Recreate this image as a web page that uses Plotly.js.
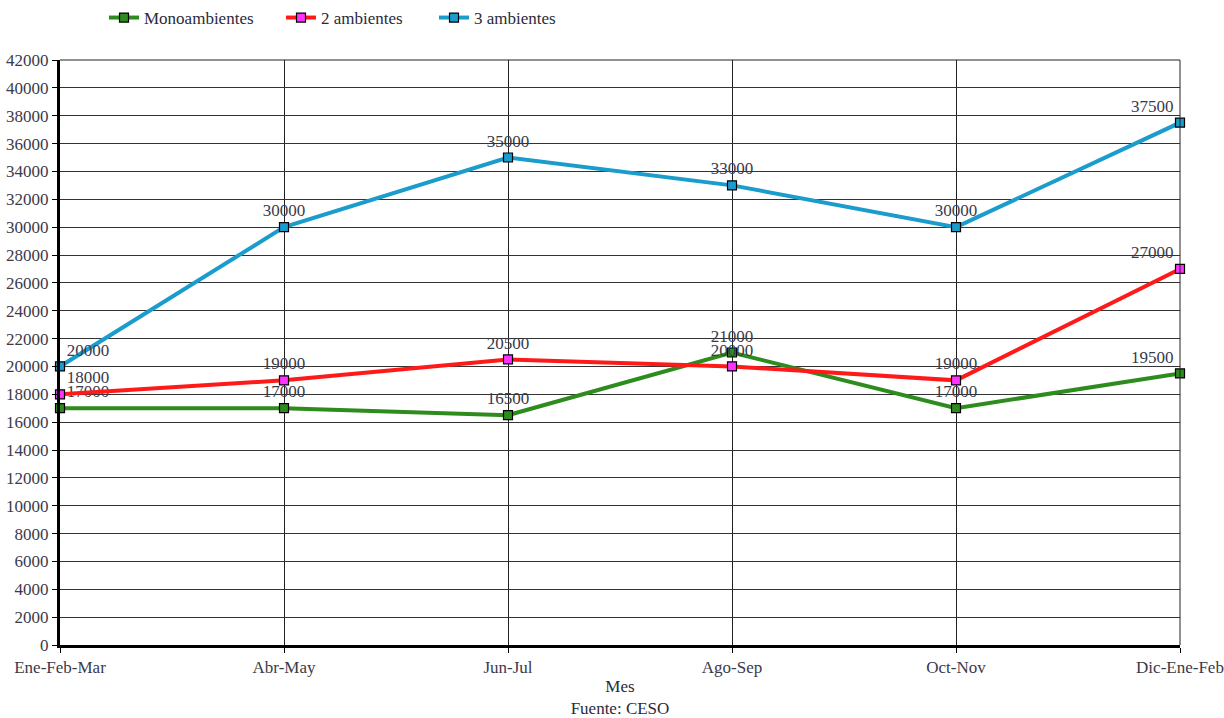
<!DOCTYPE html>
<html>
<head>
<meta charset="utf-8">
<script src="https://cdn.plot.ly/plotly-3.0.1.min.js"></script>
<style>html,body{margin:0;padding:0;background:#fff;}#chart{width:1224px;height:718px;}</style>
</head>
<body>
<div id="chart"></div>
<script>
const categories = ["Ene-Feb-Mar", "Abr-May", "Jun-Jul", "Ago-Sep", "Oct-Nov", "Dic-Ene-Feb"];
const mono = [17000, 17000, 16500, 21000, 17000, 19500];
const dos = [18000, 19000, 20500, 20000, 19000, 27000];
const tres = [20000, 30000, 35000, 33000, 30000, 37500];
const seriesNames = ["Monoambientes", "2 ambientes", "3 ambientes"];
const yTicks = [0,2000,4000,6000,8000,10000,12000,14000,16000,18000,20000,22000,24000,26000,28000,30000,32000,34000,36000,38000,40000,42000];

const font = "Liberation Serif, Times New Roman, DejaVu Serif, serif";
const textPos = categories.map((c, i) => i === 0 ? "top right" : (i === categories.length - 1 ? "top left" : "top center"));

function series(name, vals, lineColor, markerColor, legendId) {
  return {
    type: "scatter", mode: "lines+markers+text", name: name, legend: legendId,
    x: categories, y: vals,
    text: vals.map(String), textposition: textPos,
    textfont: {family: font, size: 17, color: "#3a3a4a"},
    line: {color: lineColor, width: 4},
    marker: {symbol: "square", size: 9, color: markerColor, line: {color: "#000", width: 1.2}},
    cliponaxis: false
  };
}

const data = [
  series(seriesNames[0], mono, "#2e8b1e", "#2e8b1e", "legend"),
  series(seriesNames[1], dos, "#ff1a1a", "#ff33ff", "legend2"),
  series(seriesNames[2], tres, "#1a9ccc", "#1a9ccc", "legend3")
];

function leg(xpx) {
  return {orientation: "h", xref: "container", yref: "container",
          x: xpx / 1224, xanchor: "left", y: 1.0, yanchor: "top",
          font: {family: font, size: 17, color: "#2a2a3a"}, itemwidth: 30};
}

const layout = {
  width: 1224, height: 718,
  margin: {l: 60, r: 44, t: 60, b: 73},
  paper_bgcolor: "#fff", plot_bgcolor: "#fff",
  font: {family: font, size: 17, color: "#3a3a4a"},
  showlegend: true,
  legend: leg(104),
  legend2: leg(281),
  legend3: leg(434),
  xaxis: {
    type: "category", range: [0, 5], showgrid: true, gridcolor: "#222", gridwidth: 1,
    showline: true, linecolor: "#000", linewidth: 3, ticks: "outside", ticklen: 5, tickcolor: "#000",
    tickfont: {family: font, size: 17, color: "#3a3a4a"}, automargin: false, zeroline: false,
    title: {text: "Mes<br>Fuente: CESO", font: {family: font, size: 17, color: "#2a2a3a"}, standoff: 14}
  },
  yaxis: {
    range: [0, 42000], tickvals: yTicks, ticktext: yTicks.map(String),
    showgrid: true, gridcolor: "#333", gridwidth: 1, zeroline: false,
    showline: true, linecolor: "#000", linewidth: 3, ticks: "outside", ticklen: 5, tickcolor: "#000",
    tickfont: {family: font, size: 17, color: "#3a3a4a"}, automargin: false
  },
  shapes: [
    {type: "line", xref: "paper", yref: "paper", x0: 0, x1: 1, y0: 1, y1: 1, line: {color: "#222", width: 1}},
    {type: "line", xref: "paper", yref: "paper", x0: 1, x1: 1, y0: 0, y1: 1, line: {color: "#222", width: 1}}
  ]
};

Plotly.newPlot("chart", data, layout, {displayModeBar: false, staticPlot: true});
</script>
</body>
</html>
